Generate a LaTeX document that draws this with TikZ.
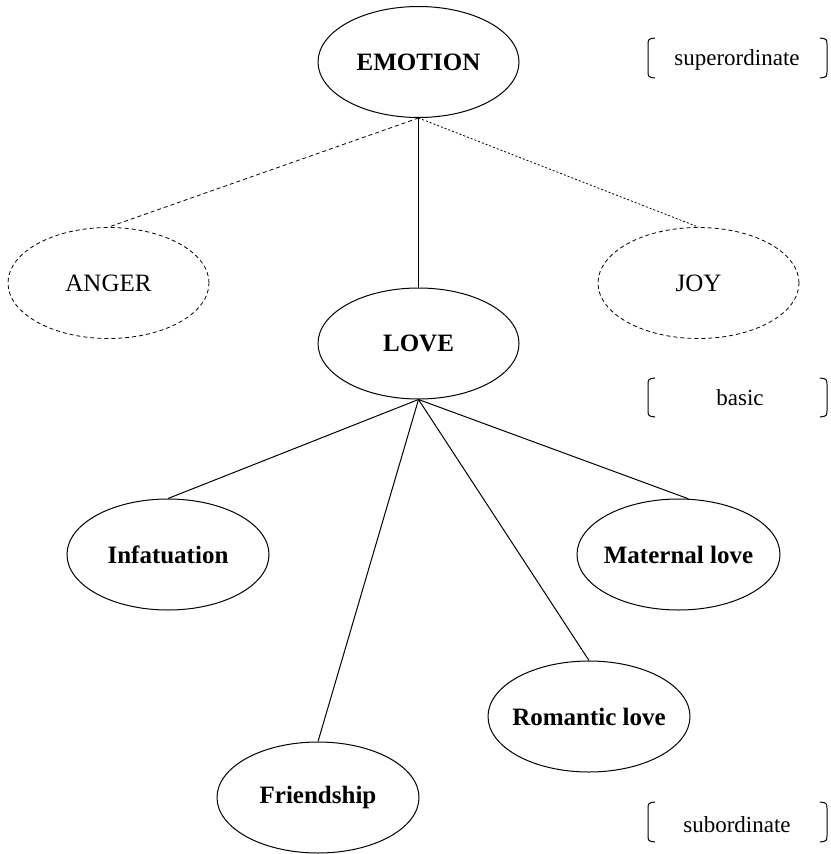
\documentclass[tikz,border=0pt]{standalone}
\usepackage{fontspec}
\setmainfont{Liberation Serif}
\usetikzlibrary{shapes.geometric}
\newcommand{\zw}[1]{\makebox[0pt]{#1}}
\begin{document}
\begin{tikzpicture}[x=1pt,y=-1pt,line width=1pt,
  concept/.style={ellipse,draw,inner sep=0pt,minimum width=201pt,minimum height=111pt,
    font=\fontsize{25}{30}\selectfont\bfseries},
  other/.style={concept,dash pattern=on 4pt off 3pt,line width=0.8pt,font=\fontsize{25}{30}\selectfont},
  level/.style={font=\fontsize{23}{28}\selectfont,inner sep=0pt},
  brk/.style={line width=1pt}]
\useasboundingbox (0,0) rectangle (830,854);

\node[concept] (emotion) at (418.5,62) {\zw{EMOTION}};
\node[other] (anger) at (108.5,283) {\zw{ANGER}};
\node[other] (joy) at (698.5,283) {\zw{JOY}};
\node[concept] (love) at (418.5,343.5) {\zw{LOVE}};
\node[concept,minimum width=202pt] (infat) at (168,554.5) {\zw{Infatuation}};
\node[concept,minimum width=203pt] (mat) at (678.5,554.5) {\zw{Maternal love}};
\node[concept,minimum width=202pt] (rom) at (589,716.5) {\zw{Romantic love}};
\node[concept,minimum width=202pt] (friend) at (318,797.5) {\zw{Friendship}};

\draw (emotion.south) -- (love.north);
\draw[dash pattern=on 4pt off 3pt,line width=0.8pt] (emotion.south) -- (anger.north);
\draw[dash pattern=on 2pt off 2pt,line width=0.8pt] (emotion.south) -- (joy.north);

\draw (love.south) -- (infat.north);
\draw (love.south) -- (friend.north);
\draw (love.south) -- (rom.north);
\draw (love.south) -- (mat.80);

% level labels
\node[level] (sup) at (737,60) {superordinate};
\node[level] (bas) at (740,398) {basic};
\node[level] (sub) at (737,825) {subordinate};

\foreach \t/\b in {38/78, 378/417, 802/842}{
  \draw[brk] (655,\t) .. controls (648,\t+1) .. (648,\t+8) -- (648,\b-8) .. controls (648,\b-1) .. (655,\b);
  \draw[brk] (820,\t) .. controls (827,\t+1) .. (827,\t+8) -- (827,\b-8) .. controls (827,\b-1) .. (820,\b);
}
\end{tikzpicture}
\end{document}
